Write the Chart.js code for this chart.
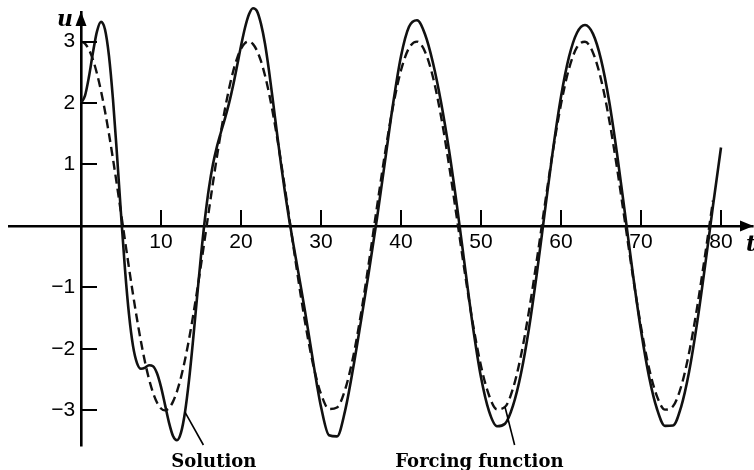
<!DOCTYPE html>
<html>
<head>
<meta charset="utf-8">
<script src="https://cdn.jsdelivr.net/npm/chart.js@4.4.1/dist/chart.umd.min.js"></script>
<style>
  html, body { margin: 0; padding: 0; background: #ffffff; }
  #wrap { width: 754px; height: 470px; }
</style>
</head>
<body>
<div id="wrap"><canvas id="c" width="754" height="470"></canvas></div>
<script>
// ---- data ----
const tValues = [
  0, 0.5, 1, 1.5, 2, 2.5, 3, 3.5, 4, 4.5, 5, 5.5, 6, 6.5, 7, 7.5, 8, 8.5, 9, 9.5,
  10, 10.5, 11, 11.5, 12, 12.5, 13, 13.5, 14, 14.5, 15, 15.5, 16, 16.5, 17, 17.5, 18, 18.5, 19, 19.5,
  20, 20.5, 21, 21.5, 22, 22.5, 23, 23.5, 24, 24.5, 25, 25.5, 26, 26.5, 27, 27.5, 28, 28.5, 29, 29.5,
  30, 31, 32, 33, 34, 35, 36, 37, 38, 39, 40, 41, 42, 43, 44, 45, 46, 47, 48, 49,
  50, 51, 52, 53, 54, 55, 56, 57, 58, 59, 60, 61, 62, 63, 64, 65, 66, 67, 68, 69,
  70, 71, 72, 73, 74, 75, 76, 77, 78, 79, 80
];
const solutionValues = [
  2.000, 2.119, 2.431, 2.825, 3.165, 3.319, 3.196, 2.763, 2.053, 1.156, 0.195, -0.706, -1.440, -1.951, -2.231, -2.324, -2.307, -2.267, -2.282, -2.397,
  -2.618, -2.907, -3.199, -3.416, -3.486, -3.362, -3.030, -2.514, -1.870, -1.169, -0.484, 0.125, 0.623, 1.006, 1.295, 1.528, 1.749, 1.993, 2.277, 2.597,
  2.927, 3.224, 3.443, 3.542, 3.495, 3.286, 2.962, 2.524, 2.025, 1.508, 1.006, 0.543, 0.121, -0.265, -0.634, -1.004, -1.388, -1.788, -2.196, -2.591,
  -2.943, -3.406, -3.424, -3.013, -2.329, -1.544, -0.733, 0.125, 1.051, 1.979, 2.761, 3.239, 3.346, 3.119, 2.651, 2.015, 1.236, 0.323, -0.674, -1.648,
  -2.463, -3.013, -3.259, -3.218, -2.924, -2.401, -1.665, -0.754, 0.252, 1.242, 2.102, 2.749, 3.142, 3.268, 3.124, 2.709, 2.044, 1.179, 0.198, -0.794,
  -1.702, -2.448, -2.978, -3.253, -3.247, -2.950, -2.381, -1.590, -0.658, 0.328, 1.276
];
const forcingValues = [
  3.000, 2.966, 2.866, 2.701, 2.476, 2.195, 1.865, 1.493, 1.087, 0.657, 0.212, -0.237, -0.682, -1.111, -1.515, -1.885, -2.212, -2.490, -2.712, -2.873,
  -2.970, -3.000, -2.962, -2.858, -2.690, -2.462, -2.178, -1.845, -1.471, -1.064, -0.632, -0.187, 0.262, 0.706, 1.134, 1.536, 1.904, 2.229, 2.504, 2.723,
  2.881, 2.973, 3.000, 2.958, 2.851, 2.679, 2.447, 2.160, 1.825, 1.449, 1.040, 0.608, 0.162, -0.288, -0.731, -1.157, -1.558, -1.923, -2.246, -2.518,
  -2.733, -2.977, -2.954, -2.668, -2.143, -1.427, -0.583, 0.313, 1.180, 1.943, 2.532, 2.894, 2.998, 2.835, 2.418, 1.785, 0.993, 0.112, -0.779, -1.601,
  -2.279, -2.754, -2.983, -2.945, -2.644, -2.107, -1.382, -0.534, 0.363, 1.227, 1.981, 2.558, 2.907, 2.996, 2.818, 2.387, 1.744, 0.945, 0.061, -0.828,
  -1.643, -2.312, -2.773, -2.988, -2.935, -2.620, -2.071, -1.337, -0.484, 0.413
];
const xTickValues = [10, 20, 30, 40, 50, 60, 70, 80];
const xTickLabels = ['10', '20', '30', '40', '50', '60', '70', '80'];
const yTickValues = [-3, -2, -1, 1, 2, 3];
const yTickLabels = ['\u22123', '\u22122', '\u22121', '1', '2', '3'];
const seriesNames = ['Solution', 'Forcing function'];
const xAxisTitle = 't';
const yAxisTitle = 'u';

// ---- decorations: inner tick marks, arrows, axis letters, callouts ----
const decor = {
  id: 'decor',
  afterDraw(chart) {
    const { ctx, chartArea: ca, scales } = chart;
    const xs = scales.x, ys = scales.y;
    const x0 = xs.getPixelForValue(0);
    const y0 = ys.getPixelForValue(0);
    ctx.save();
    ctx.globalAlpha = 1;
    ctx.fillStyle = '#000000';
    ctx.strokeStyle = '#000000';
    // tick marks pointing inward (drawn as thin filled bars)
    for (let i = 0; i < xTickValues.length; i++) {
      const px = Math.round(xs.getPixelForValue(xTickValues[i]));
      ctx.fillRect(px - 1, Math.round(y0) - 16, 2, 16);
    }
    for (let i = 0; i < yTickValues.length; i++) {
      const py = Math.round(ys.getPixelForValue(yTickValues[i]));
      ctx.fillRect(Math.round(x0), py - 1, 16, 2);
    }
    // arrow heads
    ctx.beginPath();
    ctx.moveTo(ca.right + 0.5, y0);
    ctx.lineTo(ca.right - 13, y0 - 5.5);
    ctx.lineTo(ca.right - 13, y0 + 5.5);
    ctx.closePath();
    ctx.fill();
    ctx.beginPath();
    ctx.moveTo(x0, ca.top - 0.5);
    ctx.lineTo(x0 - 5.5, ca.top + 14);
    ctx.lineTo(x0 + 5.5, ca.top + 14);
    ctx.closePath();
    ctx.fill();
    // axis letters
    ctx.font = 'italic bold 22px "DejaVu Serif", serif';
    ctx.textBaseline = 'middle';
    ctx.textAlign = 'center';
    ctx.fillText(yAxisTitle, x0 - 16, ca.top + 8);
    ctx.textAlign = 'left';
    ctx.fillText(xAxisTitle, ca.right - 7, y0 + 19);
    // callouts
    const callouts = [
      { ds: 0, t: 13, text: seriesNames[0], labelT: 16.6, leaderT: 15.3 },
      { ds: 1, t: 53, text: seriesNames[1], labelT: 49.8, leaderT: 54.2 }
    ];
    ctx.font = 'bold 18px "DejaVu Serif", serif';
    ctx.textAlign = 'center';
    ctx.textBaseline = 'alphabetic';
    ctx.lineWidth = 1.6;
    callouts.forEach(c => {
      const meta = chart.getDatasetMeta(c.ds);
      const idx = tValues.indexOf(c.t);
      const pt = meta.data[idx];
      ctx.beginPath();
      ctx.moveTo(pt.x, pt.y);
      ctx.lineTo(xs.getPixelForValue(c.leaderT), ca.bottom - 1);
      ctx.stroke();
      ctx.fillText(c.text, xs.getPixelForValue(c.labelT), ca.bottom + 21);
    });
    ctx.restore();
  }
};

const tickFont = { family: '"Liberation Sans", Arial, sans-serif', size: 21 };

function zeroPad(s) { s.paddingTop = 0; s.paddingBottom = 0; s.paddingLeft = 0; s.paddingRight = 0; }

new Chart(document.getElementById('c').getContext('2d'), {
  type: 'line',
  data: {
    datasets: [
      {
        label: seriesNames[0],
        data: tValues.map((t, i) => ({ x: t, y: solutionValues[i] })),
        borderColor: '#111',
        borderWidth: 2.6,
        pointRadius: 0,
        fill: false,
        cubicInterpolationMode: 'monotone',
        clip: false
      },
      {
        label: seriesNames[1],
        data: forcingValues.map((v, i) => ({ x: tValues[i], y: v })),
        borderColor: '#111',
        borderWidth: 2.4,
        borderDash: [9, 5],
        pointRadius: 0,
        fill: false,
        cubicInterpolationMode: 'monotone',
        clip: false
      }
    ]
  },
  options: {
    responsive: false,
    animation: false,
    devicePixelRatio: 1,
    layout: { padding: { left: 9, right: 1, top: 12, bottom: 24 } },
    plugins: { legend: { display: false }, tooltip: { enabled: false } },
    scales: {
      x: {
        type: 'linear',
        min: -9,
        max: 84,
        position: { y: 0 },
        afterFit: zeroPad,
        afterBuildTicks(s) { s.ticks = xTickValues.map(v => ({ value: v })); },
        grid: { drawOnChartArea: false, drawTicks: false, color: '#000', lineWidth: 1.6 },
        border: { display: true, color: '#000', width: 2.6 },
        ticks: {
          autoSkip: false, maxRotation: 0, minRotation: 0, padding: 4, color: '#000', font: tickFont,
          callback: (v) => { const i = xTickValues.indexOf(v); return i >= 0 ? xTickLabels[i] : ''; }
        }
      },
      y: {
        type: 'linear',
        min: -3.58,
        max: 3.48,
        position: { x: 0 },
        afterFit: zeroPad,
        afterBuildTicks(s) { s.ticks = yTickValues.map(v => ({ value: v })); },
        grid: { drawOnChartArea: false, drawTicks: false, color: '#000', lineWidth: 1.6 },
        border: { display: true, color: '#000', width: 2.6 },
        ticks: {
          autoSkip: false, padding: 0, color: '#000', font: tickFont,
          callback: (v) => { const i = yTickValues.indexOf(v); return i >= 0 ? yTickLabels[i] + ' ' : ''; }
        }
      }
    }
  },
  plugins: [decor]
});
</script>
</body>
</html>
